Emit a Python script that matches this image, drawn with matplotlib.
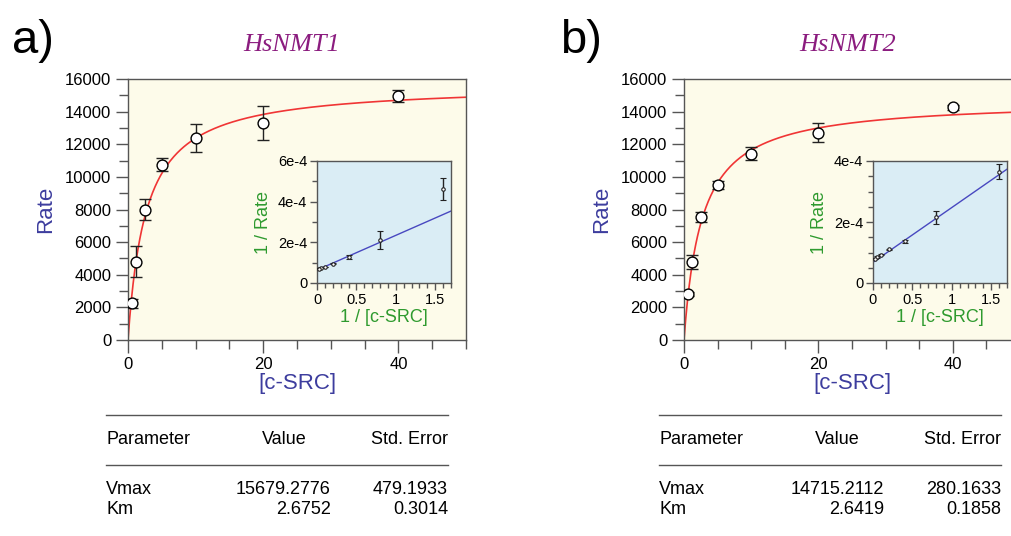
'''Michaelis-Menten fits for HsNMT1 / HsNMT2 with c-SRC'''

import numpy as np
import matplotlib.pyplot as plt
from matplotlib.ticker import MultipleLocator
from matplotlib.lines import Line2D

plt.rcParams['font.family'] = ['Liberation Sans', 'DejaVu Sans']

# substrate concentrations
conc = [0.625, 1.25, 2.5, 5, 10, 20, 40]
inv_conc = [1.6, 0.8, 0.4, 0.2, 0.1, 0.05, 0.025]

# HsNMT1
rate_1 = [2250, 4800, 8000, 10750, 12400, 13300, 14950]
err_1 = [280, 950, 650, 420, 850, 1030, 370]
inv_rate_1 = [4.6e-4, 2.12e-4, 1.28e-4, 0.95e-4, 0.79e-4, 0.75e-4, 0.71e-4]
inv_err_1 = [0.54e-4, 0.45e-4, 0.08e-4, 0.03e-4, 0.02e-4, 0.02e-4, 0.02e-4]
vmax_1, vmax_err_1 = '15679.2776', '479.1933'
km_1, km_err_1 = '2.6752', '0.3014'

# HsNMT2
rate_2 = [2820, 4780, 7520, 9500, 11430, 12720, 14280]
err_2 = [150, 450, 300, 250, 380, 570, 150]
inv_rate_2 = [3.65e-4, 2.15e-4, 1.37e-4, 1.10e-4, 0.93e-4, 0.85e-4, 0.80e-4]
inv_err_2 = [0.24e-4, 0.21e-4, 0.05e-4, 0.02e-4, 0.02e-4, 0.02e-4, 0.02e-4]
vmax_2, vmax_err_2 = '14715.2112', '280.1633'
km_2, km_err_2 = '2.6419', '0.1858'

inset_xticks = [0, 0.5, 1, 1.5]
inset_xlabels = ['0', '0.5', '1', '1.5']
inset_yticks_1 = [0, 2e-4, 4e-4, 6e-4]
inset_ylabels_1 = ['0', '2e-4', '4e-4', '6e-4']
inset_yticks_2 = [0, 2e-4, 4e-4]
inset_ylabels_2 = ['0', '2e-4', '4e-4']

W, H = 1012, 536
SPINE = '#555555'
BLUE_LBL = '#3d3d9e'
GREEN_LBL = '#2e9a2e'
PURPLE = '#8b1c7f'

fig = plt.figure(figsize=(W / 100, H / 100), dpi=100)


def box(left, top, right, bottom):
    # pixel box -> figure fraction
    return [left / W, (H - bottom) / H, (right - left) / W, (bottom - top) / H]


def style(ax, ticklen):
    for s in ax.spines.values():
        s.set_color(SPINE)
        s.set_linewidth(1.0)
    ax.tick_params(which='both', direction='out', color=SPINE, width=1.0,
                   top=False, right=False)
    ax.tick_params(which='major', length=ticklen)
    ax.tick_params(which='minor', length=ticklen * 0.7)


def panel(x_off, letter, name, rates, errs, inv_rates, inv_errs,
          vmax, vmax_err, km, km_err, yticks, ylabels, yminor, ax_right):
    ax = fig.add_axes(box(128 + x_off, 79, ax_right, 340))
    ax.set_facecolor('#fdfbea')
    vm, k = float(vmax), float(km)
    xs = np.linspace(0, 50, 400)
    ax.plot(xs, vm * xs / (k + xs), color='#f03535', lw=1.2, zorder=2)
    ax.errorbar(conc, rates, yerr=errs, fmt='o', ms=7.8, mfc='white',
                mec='black', mew=1.0, ecolor='#222222', elinewidth=1.0,
                capsize=4, capthick=1.0, zorder=3)
    ax.set_xlim(0, 50)
    ax.set_ylim(0, 16000)
    ax.set_xticks([0, 20, 40])
    ax.xaxis.set_minor_locator(MultipleLocator(5))
    ax.set_yticks(range(0, 16001, 2000))
    ax.yaxis.set_minor_locator(MultipleLocator(1000))
    style(ax, 9)
    ax.tick_params(labelsize=12, pad=3)
    ax.set_xlabel('[c-SRC]', fontsize=16, color=BLUE_LBL, labelpad=1)
    ax.set_ylabel('Rate', fontsize=16, color=BLUE_LBL, labelpad=6)

    ins = fig.add_axes(box(317 + x_off, 161, 451 + x_off, 283))
    ins.set_facecolor('#daedf5')
    lx = np.array([0, 1.7])
    ins.plot(lx, k / vm * lx + 1 / vm, color='#4848c0', lw=1.0, zorder=2)
    ins.errorbar(inv_conc, inv_rates, yerr=inv_errs, fmt='o', ms=2.5,
                 mfc='white', mec='#222222', mew=0.8, ecolor='#222222',
                 elinewidth=1.0, capsize=2, capthick=1.0, zorder=3)
    ins.set_xlim(0, 1.7)
    ins.set_ylim(0, yticks[-1])
    ins.set_xticks(inset_xticks, inset_xlabels)
    ins.set_yticks(yticks, ylabels)
    ins.xaxis.set_minor_locator(MultipleLocator(0.1))
    ins.yaxis.set_minor_locator(MultipleLocator(yminor))
    style(ins, 5)
    ins.tick_params(labelsize=10.5, pad=2)
    ins.set_xlabel('1 / [c-SRC]', fontsize=13, color=GREEN_LBL, labelpad=2)
    ins.set_ylabel('1 / Rate', fontsize=13, color=GREEN_LBL, labelpad=4)

    fig.text((12 + x_off * 0.985) / W, 1 - 53 / H, letter, fontsize=34,
             va='baseline', ha='left')
    fig.text((292 + x_off) / W, 1 - 45 / H, name, fontsize=19,
             family='Liberation Serif', style='italic', color=PURPLE,
             ha='center', va='center')

    # parameter table
    tx = x_off * 0.995
    for y in (415, 465):
        fig.add_artist(Line2D([(106 + tx) / W, (448 + tx) / W],
                              [1 - y / H, 1 - y / H], color=SPINE, lw=1.0))
    rows = [(439, 'Parameter', 'Value', 'Std. Error'),
            (489, 'Vmax', vmax, vmax_err),
            (509, 'Km', km, km_err)]
    for i, (y, a, b, c) in enumerate(rows):
        yy = 1 - y / H
        fig.text((106 + tx) / W, yy, a, fontsize=13, va='center', ha='left')
        if i == 0:
            fig.text((284 + tx) / W, yy, b, fontsize=13, va='center',
                     ha='center')
        else:
            fig.text((331 + tx) / W, yy, b, fontsize=13, va='center',
                     ha='right')
        fig.text((448 + tx) / W, yy, c, fontsize=13, va='center', ha='right')


panel(0, 'a)', 'HsNMT1', rate_1, err_1, inv_rate_1, inv_err_1,
      vmax_1, vmax_err_1, km_1, km_err_1,
      inset_yticks_1, inset_ylabels_1, 1e-4, 466)
panel(556, 'b)', 'HsNMT2', rate_2, err_2, inv_rate_2, inv_err_2,
      vmax_2, vmax_err_2, km_2, km_err_2,
      inset_yticks_2, inset_ylabels_2, 0.5e-4, 1020)

fig.savefig('out.png', dpi=100, facecolor='white')
